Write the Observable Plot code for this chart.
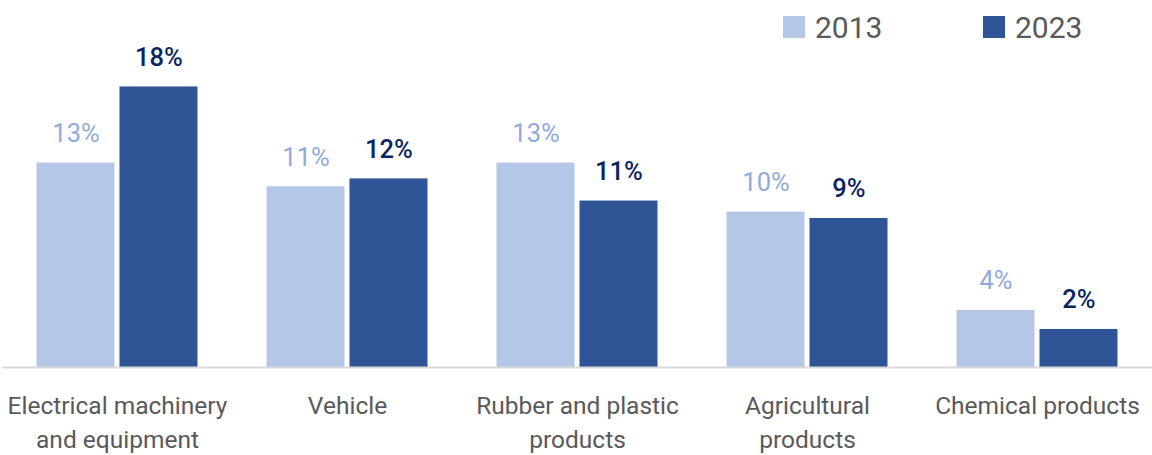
<!DOCTYPE html>
<html>
<head>
<meta charset="utf-8">
<script src="https://cdn.jsdelivr.net/npm/d3@7"></script>
<script src="https://cdn.jsdelivr.net/npm/@observablehq/plot@0.6"></script>
<style>
  html, body { margin: 0; padding: 0; background: #fff; }
  body { font-family: Roboto, "Liberation Sans", sans-serif; width: 1152px; overflow: hidden; }
  #legend { position: relative; height: 46px; display: flex; align-items: center; padding-left: 783px; box-sizing: border-box; padding-top: 8px; }
  .item { display: inline-flex; align-items: center; width: 200px; flex: none; font-size: 30px; color: #595959; }
  .sw { width: 22px; height: 22px; margin-right: 10px; flex: none; }
  #chart svg { display: block; }
</style>
</head>
<body>
<div id="legend"></div>
<div id="chart"></div>
<script>
const categories = ["Electrical machinery\nand equipment", "Vehicle", "Rubber and plastic\nproducts", "Agricultural\nproducts", "Chemical products"];
const years = ["2013", "2023"];
const values2013 = [12.9, 11.4, 12.9, 9.8, 3.6];
const values2023 = [17.7, 11.9, 10.5, 9.4, 2.4];
const barColors = ["#b4c7e7", "#2f5597"];
const labelColors = ["#8faadc", "#0b2560"];

const data = [];
categories.forEach((c, i) => {
  data.push({category: c, year: years[0], value: values2013[i]});
  data.push({category: c, year: years[1], value: values2023[i]});
});

const legend = document.getElementById("legend");
years.forEach((y, i) => {
  const it = document.createElement("div");
  it.className = "item";
  const sw = document.createElement("span");
  sw.className = "sw";
  sw.style.background = barColors[i];
  const tx = document.createElement("span");
  tx.textContent = y;
  it.appendChild(sw); it.appendChild(tx);
  legend.appendChild(it);
});

const plot = Plot.plot({
  width: 1152,
  height: 409,
  marginTop: 0,
  marginLeft: 2,
  marginRight: 0,
  marginBottom: 88,
  style: {fontFamily: "Roboto, sans-serif", background: "transparent", overflow: "visible"},
  fx: {domain: categories, padding: 0, round: false, axis: null},
  x: {domain: years, paddingInner: 0.06, paddingOuter: 0.416, round: false, axis: null},
  y: {domain: [0, 20.25], axis: null},
  color: {domain: years, range: barColors},
  marks: [
    Plot.barY(data, {fx: "category", x: "year", y: "value", fill: "year"}),
    Plot.ruleY([0], {stroke: "#d9d9d9", strokeWidth: 2}),
    Plot.text(data.filter(d => d.year === years[0]), {fx: "category", x: "year", y: "value", text: d => Math.round(d.value) + "%", lineAnchor: "bottom", dy: -21, fill: labelColors[0], fontSize: 25.5, fontWeight: 400}),
    Plot.text(data.filter(d => d.year === years[1]), {fx: "category", x: "year", y: "value", text: d => Math.round(d.value) + "%", lineAnchor: "bottom", dy: -21, fill: labelColors[1], fontSize: 25.5, fontWeight: 500}),
    Plot.text(categories, {fx: d => d, frameAnchor: "bottom", lineAnchor: "top", dy: 23, text: d => d, fill: "#595959", fontSize: 24.5, lineHeight: 1.37})
  ]
});
document.getElementById("chart").appendChild(plot);
</script>
</body>
</html>
